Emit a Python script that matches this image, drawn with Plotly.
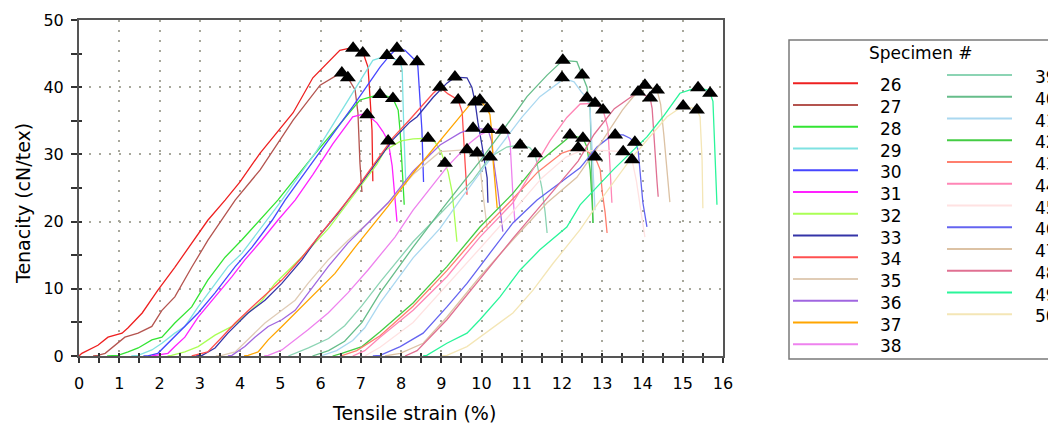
import plotly.graph_objects as go

# ---------------------------------------------------------------
# Tensile curves (strain %, tenacity cN/tex) for specimens 26-50
# ---------------------------------------------------------------
specimens = list(range(26, 51))

strain_26 = [0.0, 0.07, 0.47, 0.72, 1.07, 1.22, 1.57, 1.96, 2.38, 2.8, 3.2, 3.63, 4.0, 4.5, 5.32, 5.81, 6.16, 6.48, 6.73, 6.85, 7.06, 7.18, 7.23, 7.28, 7.3]
tenacity_26 = [0.0, 0.4, 1.6, 2.8, 3.4, 4.2, 6.4, 9.8, 13.2, 16.8, 20.2, 23.2, 25.9, 30.2, 36.2, 41.4, 43.6, 45.5, 45.8, 45.8, 45.1, 43.0, 38.5, 33.6, 26.0]

strain_27 = [0.35, 0.47, 0.65, 0.89, 1.14, 1.47, 1.81, 2.06, 2.38, 2.8, 3.2, 3.88, 4.5, 5.32, 5.99, 6.41, 6.53, 6.68, 6.8, 6.86, 6.93, 6.98, 7.03]
tenacity_27 = [0.0, 0.1, 0.4, 1.6, 2.8, 3.4, 4.4, 6.8, 8.8, 13.2, 17.2, 23.2, 27.7, 35.1, 40.3, 41.8, 42.1, 41.4, 40.3, 39.6, 36.2, 28.7, 24.4]

strain_28 = [0.7, 0.97, 1.22, 1.47, 1.81, 2.06, 2.38, 2.8, 3.2, 3.63, 4.05, 4.55, 4.94, 5.85, 6.56, 6.98, 7.4, 7.55, 7.8, 7.93, 7.98, 8.03, 8.08]
tenacity_28 = [0.0, 0.1, 0.6, 1.2, 2.4, 2.8, 4.9, 7.3, 11.3, 14.7, 17.3, 20.7, 23.2, 30.0, 35.0, 38.1, 38.8, 38.9, 38.3, 36.6, 33.3, 28.0, 22.5]

strain_29 = [1.3, 1.47, 1.81, 2.06, 2.38, 2.63, 2.96, 3.38, 3.7, 4.05, 4.55, 5.04, 5.9, 6.8, 7.3, 7.55, 7.65, 7.98, 8.03, 8.07, 8.1, 8.12]
tenacity_29 = [0.0, 0.1, 0.9, 1.9, 3.4, 4.4, 7.3, 10.8, 13.3, 15.3, 19.2, 23.2, 30.5, 39.1, 44.0, 44.5, 44.7, 43.8, 42.5, 33.6, 28.0, 25.5]

strain_30 = [1.6, 1.71, 1.96, 2.21, 2.56, 2.96, 3.38, 3.88, 4.3, 4.8, 5.12, 6.16, 6.8, 7.48, 7.73, 7.9, 8.1, 8.3, 8.4, 8.42, 8.47, 8.52, 8.56]
tenacity_30 = [0.0, 0.0, 0.4, 1.9, 3.9, 6.4, 9.4, 13.3, 16.2, 20.2, 23.2, 31.7, 37.1, 43.0, 44.8, 45.8, 45.5, 44.3, 43.8, 43.0, 38.5, 33.6, 25.9]

strain_31 = [1.8, 1.9, 2.21, 2.38, 2.63, 2.96, 3.38, 3.8, 4.12, 4.55, 4.94, 5.37, 5.81, 6.31, 6.8, 7.06, 7.16, 7.4, 7.55, 7.68, 7.78, 7.83, 7.9]
tenacity_31 = [0.0, 0.1, 0.4, 1.4, 2.8, 5.8, 8.8, 11.8, 14.3, 17.3, 20.2, 23.2, 27.0, 31.6, 35.6, 36.0, 35.9, 34.7, 33.4, 32.0, 28.3, 25.0, 20.0]

strain_32 = [2.2, 2.3, 2.63, 2.96, 3.38, 3.8, 4.2, 4.55, 4.87, 5.5, 6.2, 6.9, 7.4, 7.6, 8.0, 8.3, 8.67, 8.85, 9.0, 9.09, 9.17, 9.27, 9.34, 9.39]
tenacity_32 = [0.0, 0.1, 0.6, 1.4, 3.1, 4.4, 6.4, 8.3, 10.8, 14.5, 19.0, 24.5, 28.5, 30.6, 32.0, 32.3, 32.4, 31.8, 30.3, 28.7, 27.4, 24.4, 19.9, 17.0]

strain_33 = [2.9, 3.06, 3.38, 3.7, 4.2, 4.62, 5.04, 5.54, 5.94, 6.43, 6.68, 7.0, 7.8, 8.22, 8.4, 8.8, 9.14, 9.34, 9.64, 9.76, 9.84, 9.91, 10.01, 10.14, 10.16]
tenacity_33 = [0.0, 0.1, 1.2, 3.4, 6.4, 8.3, 10.8, 14.3, 17.7, 21.2, 23.2, 25.6, 32.2, 34.8, 35.6, 38.5, 40.6, 41.5, 41.4, 40.0, 37.8, 34.8, 31.4, 26.5, 22.8]

strain_34 = [2.8, 2.88, 3.2, 3.55, 3.88, 4.3, 4.7, 5.04, 5.54, 5.94, 6.36, 6.68, 7.0, 7.8, 8.22, 8.4, 8.8, 8.97, 9.17, 9.42, 9.52, 9.59, 9.64]
tenacity_34 = [0.0, 0.1, 0.6, 2.8, 4.9, 7.3, 9.5, 11.3, 14.7, 17.7, 20.7, 23.2, 25.8, 32.5, 35.2, 36.4, 39.1, 40.0, 39.0, 38.1, 36.3, 28.9, 24.0]

strain_35 = [3.4, 3.55, 3.88, 4.2, 4.62, 5.04, 5.37, 5.69, 6.19, 6.68, 7.18, 7.68, 8.3, 8.97, 9.29, 9.64, 9.89, 9.96, 10.04, 10.14]
tenacity_35 = [0.0, 0.1, 0.6, 2.4, 4.9, 6.8, 8.3, 10.8, 14.3, 17.2, 19.8, 22.8, 27.0, 30.4, 30.5, 30.7, 30.2, 28.4, 24.0, 19.0]

strain_36 = [3.7, 3.8, 4.12, 4.37, 4.7, 5.04, 5.37, 5.69, 6.19, 6.68, 7.18, 7.68, 8.3, 8.97, 9.47, 9.79, 10.16, 10.25, 10.29, 10.41, 10.53]
tenacity_36 = [0.0, 0.1, 1.4, 2.8, 4.4, 5.4, 6.8, 9.4, 13.3, 16.8, 19.8, 22.8, 27.5, 31.4, 33.2, 33.9, 33.7, 32.0, 29.5, 24.4, 18.5]

strain_37 = [4.1, 4.2, 4.45, 4.7, 5.04, 5.44, 5.86, 6.36, 6.86, 7.35, 7.68, 8.3, 8.8, 9.14, 9.47, 9.71, 9.96, 10.14, 10.21, 10.26, 10.29, 10.34, 10.39]
tenacity_37 = [0.0, 0.1, 0.6, 2.4, 4.4, 6.8, 9.4, 12.3, 16.2, 19.8, 22.3, 27.2, 30.8, 33.2, 35.6, 37.4, 38.1, 36.8, 35.9, 32.9, 28.9, 25.4, 22.0]

strain_38 = [4.6, 4.7, 5.04, 5.37, 5.69, 6.19, 6.68, 7.18, 7.6, 7.85, 8.3, 9.14, 9.71, 9.96, 10.29, 10.53, 10.63, 10.71, 10.78, 10.83]
tenacity_38 = [0.0, 0.1, 0.9, 2.4, 3.9, 6.4, 9.4, 12.8, 15.8, 17.7, 21.7, 28.1, 31.7, 32.9, 33.8, 33.6, 33.4, 31.8, 24.0, 19.9]

strain_39 = [5.2, 5.7, 6.2, 6.6, 7.03, 7.48, 8.3, 9.14, 9.79, 10.21, 10.63, 10.96, 11.2, 11.33, 11.4, 11.5, 11.58, 11.63]
tenacity_39 = [0.0, 1.2, 2.6, 4.5, 7.5, 11.0, 17.0, 22.2, 26.2, 29.6, 31.1, 31.4, 31.0, 30.1, 28.0, 25.0, 21.4, 18.3]

strain_40 = [5.8, 6.2, 6.6, 7.03, 7.48, 8.3, 8.97, 9.5, 9.96, 10.5, 11.13, 11.63, 12.02, 12.37, 12.5, 12.62, 12.7, 12.75, 12.77]
tenacity_40 = [0.0, 0.8, 2.2, 5.0, 9.4, 16.2, 21.5, 25.5, 29.0, 33.3, 38.6, 41.8, 44.0, 43.8, 41.8, 40.0, 36.6, 26.6, 19.8]

strain_41 = [6.0, 6.4, 6.8, 7.1, 7.48, 8.3, 8.97, 9.5, 10.29, 11.0, 11.45, 11.95, 12.0, 12.3, 12.48, 12.62, 12.7, 12.75, 12.79, 12.82]
tenacity_41 = [0.0, 0.8, 2.3, 4.2, 7.9, 14.6, 19.0, 23.5, 29.9, 35.5, 38.6, 40.8, 41.4, 40.8, 39.3, 38.4, 36.6, 30.0, 24.0, 21.7]

strain_42 = [6.3, 6.53, 7.03, 7.48, 8.3, 9.14, 9.96, 10.78, 11.38, 11.7, 12.12, 12.2, 12.52, 12.62, 12.7, 12.75, 12.77]
tenacity_42 = [0.0, 0.4, 1.4, 3.6, 7.9, 13.3, 19.2, 24.2, 28.6, 30.2, 32.3, 32.9, 32.4, 31.1, 27.7, 22.8, 19.8]

strain_43 = [6.5, 6.9, 7.48, 8.3, 9.14, 9.96, 10.78, 11.4, 12.0, 12.4, 12.6, 12.82, 12.95, 13.0, 13.07, 13.12]
tenacity_43 = [0.0, 0.8, 3.0, 7.4, 12.7, 18.4, 23.4, 27.4, 30.2, 31.0, 30.6, 29.6, 27.7, 24.4, 21.4, 18.3]

strain_44 = [6.8, 7.1, 7.48, 8.3, 9.14, 9.96, 10.78, 11.2, 11.7, 12.12, 12.45, 12.82, 13.02, 13.14, 13.19, 13.24]
tenacity_44 = [0.0, 0.8, 2.8, 6.8, 11.8, 17.7, 22.8, 27.0, 32.0, 35.5, 37.5, 37.6, 36.6, 34.0, 29.2, 22.8]

strain_45 = [7.1, 7.48, 8.3, 9.14, 9.96, 10.78, 11.5, 12.1, 12.45, 13.0, 13.52, 13.74, 13.85, 13.95, 14.06]
tenacity_45 = [0.0, 1.3, 5.0, 10.5, 16.0, 21.5, 26.5, 29.6, 30.5, 30.6, 30.4, 29.2, 26.0, 22.0, 17.7]

strain_46 = [7.3, 7.48, 7.98, 8.55, 9.14, 9.64, 10.21, 10.78, 11.38, 12.12, 12.45, 12.87, 13.19, 13.32, 13.52, 13.69, 13.81, 13.89, 13.94, 14.01, 14.11]
tenacity_46 = [0.0, 0.1, 1.4, 3.4, 7.3, 10.8, 15.3, 19.8, 23.2, 26.6, 28.0, 31.1, 32.6, 32.9, 32.9, 32.4, 31.8, 30.7, 27.7, 22.8, 19.2]

strain_47 = [7.6, 7.98, 8.55, 9.14, 9.96, 10.78, 11.63, 12.37, 13.0, 13.5, 13.76, 14.06, 14.36, 14.45, 14.53, 14.6, 14.68]
tenacity_47 = [0.0, 0.4, 1.9, 5.8, 11.8, 17.3, 22.8, 26.6, 32.0, 36.6, 38.5, 40.3, 39.6, 37.5, 32.9, 28.0, 22.9]

strain_48 = [8.1, 8.4, 9.14, 9.96, 10.78, 11.63, 12.4, 12.8, 13.3, 13.89, 14.19, 14.24, 14.3, 14.36, 14.39]
tenacity_48 = [0.0, 0.8, 5.4, 11.5, 17.5, 23.5, 29.0, 33.0, 36.8, 39.3, 38.4, 36.8, 30.8, 26.0, 23.7]

strain_49 = [8.55, 8.64, 9.14, 9.64, 9.96, 10.46, 10.96, 11.45, 12.12, 12.45, 13.27, 14.11, 14.51, 14.93, 15.18, 15.38, 15.6, 15.68, 15.75, 15.78, 15.8, 15.85]
tenacity_49 = [0.0, 0.1, 1.9, 3.4, 5.4, 8.8, 12.8, 15.8, 19.2, 22.5, 27.7, 32.6, 35.6, 39.1, 39.6, 39.9, 39.6, 39.1, 37.9, 33.6, 28.7, 22.5]

strain_50 = [9.0, 9.14, 9.64, 10.21, 10.78, 11.28, 11.78, 12.45, 12.87, 13.69, 14.11, 14.61, 14.93, 15.01, 15.25, 15.35, 15.43, 15.48, 15.5]
tenacity_50 = [0.0, 0.1, 1.4, 3.9, 6.4, 9.8, 13.8, 18.8, 22.5, 29.2, 32.1, 35.6, 36.9, 37.2, 36.9, 36.6, 35.6, 29.2, 22.0]

# Triangle markers (peak / break points)
marker_strain = [6.81, 7.05, 6.53, 6.68, 7.48, 7.8, 7.65, 7.98, 7.9, 8.4, 7.16, 7.68,
                 8.67, 9.09, 9.34, 9.84, 8.97, 9.42, 9.64, 9.89, 9.79, 10.16, 9.96, 10.14,
                 10.53, 10.21, 10.96, 11.33, 12.02, 12.5, 12.0, 12.62, 12.2, 12.52,
                 12.4, 12.82, 12.82, 13.02, 13.52, 13.74, 13.32, 13.81, 14.06, 14.36,
                 13.89, 14.19, 15.38, 15.68, 15.01, 15.35]
marker_tenacity = [45.8, 45.1, 42.1, 41.4, 38.9, 38.3, 44.7, 43.8, 45.8, 43.8, 35.9, 32.0,
                   32.4, 28.7, 41.5, 37.8, 40.0, 38.1, 30.7, 30.2, 33.9, 33.7, 38.1, 36.8,
                   33.6, 29.6, 31.4, 30.1, 44.0, 41.8, 41.4, 38.4, 32.9, 32.4,
                   31.0, 29.6, 37.6, 36.6, 30.4, 29.2, 32.9, 31.8, 40.3, 39.6,
                   39.3, 38.4, 39.9, 39.1, 37.2, 36.6]

# Line colours per specimen
colors = {
    26: "#ee2020", 27: "#b4544f", 28: "#33e433", 29: "#7fe2e2", 30: "#4646ff",
    31: "#ff22ff", 32: "#aaff55", 33: "#3434a8", 34: "#ff5050", 35: "#e0ccb6",
    36: "#a066e0", 37: "#ffa500", 38: "#ee82ee", 39: "#8cd4b4", 40: "#66bd8a",
    41: "#aad8f0", 42: "#44cc44", 43: "#ff7f6e", 44: "#ff86b6", 45: "#ffe2e2",
    46: "#6464f0", 47: "#dcc2a4", 48: "#e07092", 49: "#2af59a", 50: "#f4e6b6",
}

curves = {
    26: (strain_26, tenacity_26), 27: (strain_27, tenacity_27), 28: (strain_28, tenacity_28),
    29: (strain_29, tenacity_29), 30: (strain_30, tenacity_30), 31: (strain_31, tenacity_31),
    32: (strain_32, tenacity_32), 33: (strain_33, tenacity_33), 34: (strain_34, tenacity_34),
    35: (strain_35, tenacity_35), 36: (strain_36, tenacity_36), 37: (strain_37, tenacity_37),
    38: (strain_38, tenacity_38), 39: (strain_39, tenacity_39), 40: (strain_40, tenacity_40),
    41: (strain_41, tenacity_41), 42: (strain_42, tenacity_42), 43: (strain_43, tenacity_43),
    44: (strain_44, tenacity_44), 45: (strain_45, tenacity_45), 46: (strain_46, tenacity_46),
    47: (strain_47, tenacity_47), 48: (strain_48, tenacity_48), 49: (strain_49, tenacity_49),
    50: (strain_50, tenacity_50),
}

FONT = "DejaVu Sans, Verdana, sans-serif"
W, H = 1048, 428
ML, MR, MT, MB = 79, W - 723, 20, H - 356
PW, PH = W - ML - MR, H - MT - MB


def pxx(px):
    return (px - ML) / PW


def pxy(py):
    return (H - MB - py) / PH


fig = go.Figure()

for sp in specimens:
    xs, ys = curves[sp]
    fig.add_trace(go.Scatter(
        x=xs, y=ys, mode="lines", name=str(sp),
        line=dict(color=colors[sp], width=1.3),
        showlegend=False, hoverinfo="skip", cliponaxis=False,
    ))

fig.add_trace(go.Scatter(
    x=marker_strain, y=marker_tenacity, mode="markers",
    marker=dict(symbol="triangle-up", size=14, color="black"),
    showlegend=False, hoverinfo="skip",
))

# Overlay axes give the ticks that cross the axis lines
fig.add_trace(go.Scatter(x=[None], y=[None], xaxis="x2", yaxis="y2",
                         showlegend=False, hoverinfo="skip"))

grid_kw = dict(showgrid=True, gridcolor="#a8a89c", gridwidth=2, griddash="2px,8px")

fig.update_layout(
    width=W, height=H,
    margin=dict(l=ML, r=MR, t=MT, b=MB),
    paper_bgcolor="white", plot_bgcolor="white",
    font=dict(family=FONT, size=16, color="black"),
    xaxis=dict(
        range=[0, 16], dtick=1, tick0=0, ticks="outside", ticklen=5, tickwidth=1.5,
        tickcolor="#333", minor=dict(dtick=0.5, ticks="outside", ticklen=5, tickwidth=1.5, tickcolor="#333"),
        showline=True, linecolor="#555", linewidth=2, mirror=True, zeroline=False,
        ticklabelstandoff=7, tickfont=dict(size=16), layer="below traces", **grid_kw,
    ),
    yaxis=dict(
        range=[0, 50], dtick=10, tick0=0, ticks="outside", ticklen=6, tickwidth=1.5,
        tickcolor="#333", minor=dict(dtick=5, ticks="outside", ticklen=6, tickwidth=1.5, tickcolor="#333"),
        showline=True, linecolor="#555", linewidth=2, mirror=True, zeroline=False,
        ticklabelstandoff=4, tickfont=dict(size=16), layer="below traces", **grid_kw,
    ),
    xaxis2=dict(
        range=[0, 16], overlaying="x", anchor="y2", side="bottom", dtick=1, tick0=0,
        ticks="inside", ticklen=3, tickwidth=1.5, tickcolor="#333",
        minor=dict(dtick=0.5, ticks="inside", ticklen=3, tickwidth=1.5, tickcolor="#333"),
        showticklabels=False, showgrid=False, showline=False, zeroline=False,
    ),
    yaxis2=dict(
        range=[0, 50], overlaying="y", anchor="x2", side="left", dtick=10, tick0=0,
        ticks="inside", ticklen=3, tickwidth=1.5, tickcolor="#333",
        minor=dict(dtick=5, ticks="inside", ticklen=3, tickwidth=1.5, tickcolor="#333"),
        showticklabels=False, showgrid=False, showline=False, zeroline=False,
    ),
)

annotations = [
    dict(text="Tensile strain (%)", x=pxx(414), y=pxy(413), xref="paper", yref="paper",
         showarrow=False, xanchor="center", yanchor="middle", font=dict(size=19)),
    dict(text="Tenacity (cN/tex)", x=pxx(23), y=pxy(204), xref="paper", yref="paper",
         showarrow=False, xanchor="center", yanchor="middle", textangle=-90, font=dict(size=19)),
    dict(text="Specimen #", x=pxx(921), y=pxy(53), xref="paper", yref="paper",
         showarrow=False, xanchor="center", yanchor="middle", font=dict(size=17)),
]

shapes = [
    dict(type="rect", xref="paper", yref="paper", x0=pxx(789), x1=pxx(1070),
         y0=pxy(359), y1=pxy(40), line=dict(color="#7a7a7a", width=1.5), fillcolor="white",
         layer="below"),
]

# Hand-built two-column legend
ROW = 21.75
for i, sp in enumerate(specimens):
    if sp <= 38:
        row = i
        ly = 83.3 + row * ROW
        lx0, lx1 = 793, 858
        tx, anchor = 891, "center"
    else:
        row = i - 13
        ly = 75.0 + row * ROW
        lx0, lx1 = 947, 1012
        tx, anchor = 1033, "left"
    shapes.append(dict(type="line", xref="paper", yref="paper",
                       x0=pxx(lx0), x1=pxx(lx1), y0=pxy(ly), y1=pxy(ly),
                       line=dict(color=colors[sp], width=2)))
    annotations.append(dict(text=str(sp), x=pxx(tx), y=pxy(ly + 2), xref="paper", yref="paper",
                            showarrow=False, xanchor=anchor, yanchor="middle",
                            font=dict(size=17)))

fig.update_layout(annotations=annotations, shapes=shapes)

fig.write_html("out.html")
